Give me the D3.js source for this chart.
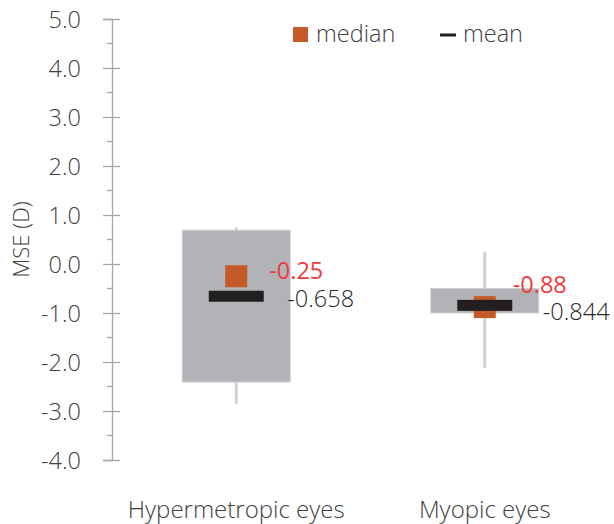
<!DOCTYPE html>
<html><head><meta charset="utf-8">
<script src="https://cdn.jsdelivr.net/npm/d3@7"></script>
<style>body{margin:0;background:#fff}svg{display:block}text{font-family:"Open Sans","Noto Sans",sans-serif;font-weight:300}</style>
</head><body><div id="chart"></div>
<script>
const categories = ["Hypermetropic eyes", "Myopic eyes"];
const whiskerMax = [0.75, 0.25];
const whiskerMin = [-2.86, -2.12];
const boxTop = [0.69, -0.5];
const boxBottom = [-2.41, -1.0];
const medians = [-0.25, -0.88];
const means = [-0.658, -0.844];
const medianLabels = ["-0.25", "-0.88"];
const meanLabels = ["-0.658", "-0.844"];
const yTicks = [5, 4, 3, 2, 1, 0, -1, -2, -3, -4];

const W = 614, H = 524;
const svg = d3.select("#chart").append("svg").attr("width", W).attr("height", H);
const y = d3.scaleLinear().domain([-4, 5]).range([460, 19]);
const x = d3.scaleBand().domain(categories).range([112, 609]);
const cx = c => x(c) + x.bandwidth() / 2;
const axisCol = "#a6a6a6";
const FS = "23.5px";

// y axis
const ax = svg.append("g").attr("transform", "translate(112,0)");
ax.call(d3.axisLeft(y).tickValues(yTicks).tickFormat(d => d.toFixed(1)).tickSize(9).tickPadding(22));
ax.select(".domain").attr("stroke", axisCol).attr("stroke-width", 1.3);
ax.selectAll(".tick line").attr("stroke", axisCol).attr("stroke-width", 1.3).attr("x2", -9).attr("x1", 8);
ax.selectAll(".tick text").attr("fill", "#404040").style("font-size", "23.5px").attr("dy", "0.35em");
// minor ticks
const minor = d3.range(-3.5, 5, 1);
ax.selectAll(".minor").data(minor).enter().append("line")
  .attr("x1", -5).attr("x2", 0).attr("y1", d => y(d)).attr("y2", d => y(d))
  .attr("stroke", axisCol).attr("stroke-width", 1.3);

// y title
svg.append("text").attr("transform", `translate(29,${y(0.5)}) rotate(-90)`)
  .attr("text-anchor", "middle").attr("fill", "#404040").style("font-size", "22px").text("MSE (D)");

// category labels
svg.selectAll(".cat").data(categories).enter().append("text")
  .attr("x", d => cx(d)).attr("y", 518).attr("text-anchor", "middle")
  .attr("fill", "#404040").style("font-size", "24px").text(d => d);

// label placement (layout, not data): median label lifted on the second box to clear the mean label
const medDx = [33, 28], medDy = [3, -14];
const meanDx = [51, 58], meanDy = [11, 15];

const g = svg.append("g");
categories.forEach((c, i) => {
  const xc = cx(c);
  g.append("line").attr("x1", xc).attr("x2", xc).attr("y1", y(whiskerMax[i])).attr("y2", y(whiskerMin[i]))
    .attr("stroke", "#d0d0d2").attr("stroke-width", 3);
  g.append("rect").attr("x", xc - 54).attr("width", 108)
    .attr("y", y(boxTop[i])).attr("height", y(boxBottom[i]) - y(boxTop[i]))
    .attr("fill", "#b2b3b6").attr("stroke", "#cfd0d2").attr("stroke-width", 1);
  g.append("rect").attr("x", xc - 11).attr("width", 22)
    .attr("y", y(medians[i]) - 11).attr("height", 22).attr("fill", "#c55a28");
  g.append("rect").attr("x", xc - 27.5).attr("width", 55)
    .attr("y", y(means[i]) - 5.5).attr("height", 11).attr("fill", "#231f20");
  g.append("text").attr("x", xc + medDx[i]).attr("y", y(medians[i]) + medDy[i])
    .attr("fill", "#f03a3a").style("font-size", FS).style("font-weight", 400).text(medianLabels[i]);
  g.append("text").attr("x", xc + meanDx[i]).attr("y", y(means[i]) + meanDy[i])
    .attr("fill", "#262626").style("font-size", FS).text(meanLabels[i]);
});

// legend
const lg = svg.append("g");
lg.append("rect").attr("x", 293).attr("y", 27).attr("width", 15).attr("height", 15).attr("fill", "#c55a28");
lg.append("text").attr("x", 316).attr("y", 42).attr("fill", "#404040").style("font-size", FS).text("median");
lg.append("rect").attr("x", 440).attr("y", 33.5).attr("width", 16).attr("height", 3).attr("fill", "#231f20");
lg.append("text").attr("x", 463).attr("y", 42).attr("fill", "#404040").style("font-size", FS).text("mean");
</script></body></html>
